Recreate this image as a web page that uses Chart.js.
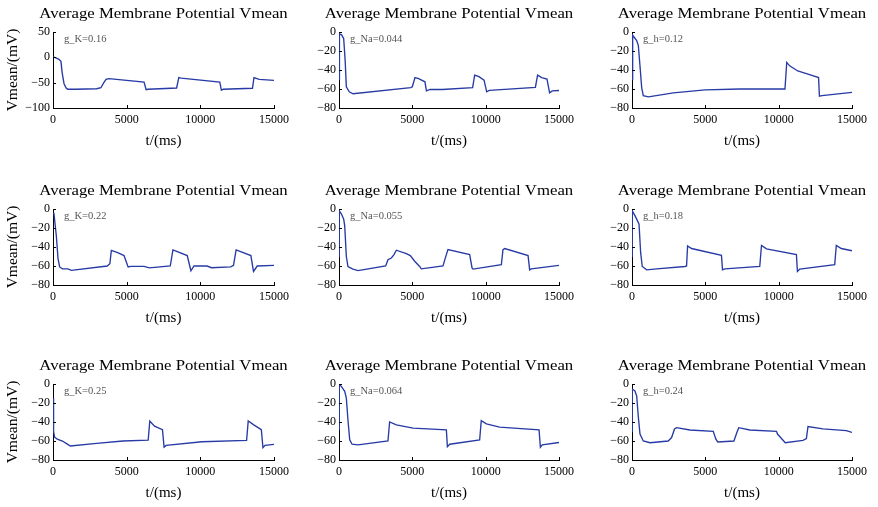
<!DOCTYPE html>
<html>
<head>
<meta charset="utf-8">
<script src="https://cdn.jsdelivr.net/npm/chart.js@4.4.1/dist/chart.umd.min.js"></script>
<style>
  body { margin: 0; background: #fff; }
  #wrap { position: relative; width: 878px; height: 507px; }
  #wrap canvas { position: absolute; }
</style>
</head>
<body>
<div id="wrap"></div>
<script>
// tick values
var xTicks = [0, 5000, 10000, 15000];
var yTicksWide = [50, 0, -50, -100];
var yTicks = [0, -20, -40, -60, -80];

// g_K = 0.16
var tK16 = [0, 200, 400, 540, 620, 750, 880, 1000, 1500, 2960, 3250, 3450, 3600, 3800, 6180, 6320, 6450, 8390, 8540, 8700, 11320, 11430, 11550, 13540, 13640, 14000, 15000];
var vK16 = [1, -1, -4, -8, -30, -52, -60, -63, -63, -62, -60, -50, -43.5, -42, -49, -64, -63, -60.5, -40, -41, -49, -65, -63, -61, -40, -43.5, -45.5];
// g_Na = 0.044
var tNa44 = [0, 30, 180, 320, 420, 500, 700, 960, 4890, 5000, 5180, 5430, 5860, 5960, 6210, 7040, 9110, 9250, 9540, 9890, 10070, 10250, 13390, 13540, 13820, 14180, 14360, 14540, 15000];
var vNa44 = [-50, -2, -3, -7, -30, -57.6, -63, -65, -58.6, -57.6, -48, -49, -52.4, -62, -60.4, -60.5, -58.6, -45.4, -47, -50.7, -63, -61.5, -58.3, -45.4, -48, -49.6, -64, -62, -61.6];
// g_h = 0.12
var tH12 = [0, 45, 320, 430, 545, 660, 770, 1120, 2820, 4980, 7360, 10430, 10550, 10750, 11300, 12000, 12720, 12780, 12950, 15000];
var vH12 = [-50, -3.5, -9, -14, -35.6, -58.7, -67, -68.3, -64, -61, -60, -60, -32, -35.6, -41, -44.4, -48, -67.6, -67, -63.5];

// g_K = 0.22
var tK22 = [0, 60, 230, 340, 450, 640, 1000, 1250, 3680, 3860, 3960, 4390, 4820, 5100, 5290, 6180, 6540, 7960, 8140, 9110, 9360, 9570, 10460, 10750, 12070, 12250, 12430, 13430, 13610, 13860, 15000];
var vK22 = [-5, -4, -29, -52, -61, -63, -63, -64.6, -60, -57.6, -43.6, -46, -49, -61, -60.4, -60.4, -62, -60, -43, -49, -65, -60, -60, -61.8, -61, -59.4, -43, -49, -65.7, -60, -59.4];
// g_Na = 0.055
var tNa55 = [0, 20, 160, 320, 390, 500, 610, 950, 1300, 3180, 3340, 3570, 3750, 3910, 4590, 4860, 5160, 5500, 5610, 7090, 7320, 7430, 8910, 9070, 9140, 11070, 11180, 11300, 12890, 13000, 13110, 15000];
var vNa55 = [-50, -2, -5, -10.7, -17.8, -50, -60.5, -63.3, -64.8, -60, -53.4, -51.6, -48, -43.4, -47, -49, -55, -60.5, -63, -60, -48, -42.7, -48, -62, -63.3, -58.7, -42.7, -41.6, -49, -64, -63, -59.4];
// g_h = 0.18
var tH18 = [0, 20, 200, 320, 480, 590, 700, 1000, 1680, 3610, 3720, 3790, 4060, 6100, 6170, 6330, 8710, 8830, 9170, 11210, 11280, 11440, 13820, 13930, 14270, 15000];
var vH18 = [-50, -2, -7, -10.7, -16, -46, -60.5, -64, -63, -60.5, -60, -39, -41.6, -48.8, -64, -63, -60.5, -38.4, -42, -48, -65.8, -63.3, -58.7, -38.4, -41.6, -44];

// g_K = 0.25
var tK25 = [0, 40, 110, 290, 640, 1000, 1180, 2960, 4750, 6460, 6570, 6890, 7430, 7540, 7680, 10110, 13140, 13250, 13680, 14140, 14250, 14390, 15000];
var vK25 = [-15, -50, -56, -58, -60, -63.6, -65.3, -62.5, -60, -59, -39, -44.4, -48, -66.4, -64.6, -60.8, -59.4, -39, -43.6, -48, -67, -64.6, -63.6];
// g_Na = 0.064
var tNa64 = [0, 20, 160, 390, 500, 610, 730, 890, 1300, 3340, 3450, 3910, 5050, 7320, 7390, 7550, 9590, 9700, 10050, 10950, 13640, 13730, 13860, 15000];
var vNa64 = [-48, -0.7, -2.5, -7.7, -14.8, -37.7, -58.8, -63.4, -64, -60, -40, -43, -46.5, -48.2, -66, -63.4, -58.8, -38.7, -42, -45.4, -48.2, -66.5, -64, -61.6];
// g_h = 0.24
var tH24 = [0, 20, 200, 320, 430, 545, 770, 1230, 2470, 2700, 2900, 3040, 3950, 5540, 5720, 5850, 6950, 7150, 7280, 8030, 9850, 9920, 10450, 11660, 11890, 12000, 13020, 14610, 15000];
var vH24 = [-50, -5.5, -7.3, -12.7, -34.5, -52.7, -60, -61.8, -60, -56.4, -47.3, -46, -48.4, -49.8, -58, -61, -60, -51, -46, -48.4, -49.8, -52.7, -61.8, -59.3, -57.5, -44.7, -47.3, -49, -51];

var colLeft = [53, 339, 632];
var colRight = [274, 559, 852];
var rowTop = [32, 209, 384];
var plotH = 76;

var panels = [
    { r: 0, c: 0, tag: 'g_K=0.16', t: tK16, v: vK16, yt: yTicksWide },
    { r: 0, c: 1, tag: 'g_Na=0.044', t: tNa44, v: vNa44, yt: yTicks },
    { r: 0, c: 2, tag: 'g_h=0.12', t: tH12, v: vH12, yt: yTicks },
    { r: 1, c: 0, tag: 'g_K=0.22', t: tK22, v: vK22, yt: yTicks },
    { r: 1, c: 1, tag: 'g_Na=0.055', t: tNa55, v: vNa55, yt: yTicks },
    { r: 1, c: 2, tag: 'g_h=0.18', t: tH18, v: vH18, yt: yTicks },
    { r: 2, c: 0, tag: 'g_K=0.25', t: tK25, v: vK25, yt: yTicks },
    { r: 2, c: 1, tag: 'g_Na=0.064', t: tNa64, v: vNa64, yt: yTicks },
    { r: 2, c: 2, tag: 'g_h=0.24', t: tH24, v: vH24, yt: yTicks }
];

function fmt(v) {
    return v < 0 ? '\u2212' + Math.abs(v) : String(v);
}

// titles, axis labels, inward ticks, annotation
var decor = {
    id: 'decor',
    afterDraw: function(chart, args, opts) {
        var ctx = chart.ctx, a = chart.chartArea;
        var xs = chart.scales.x, ys = chart.scales.y;
        ctx.save();
        ctx.strokeStyle = '#000';
        ctx.lineWidth = 1;
        ctx.beginPath();
        xs.ticks.forEach(function(t) {
            var px = Math.round(xs.getPixelForValue(t.value)) + 0.5;
            ctx.moveTo(px, a.bottom);
            ctx.lineTo(px, a.bottom - 3);
        });
        ys.ticks.forEach(function(t) {
            var py = Math.round(ys.getPixelForValue(t.value)) + 0.5;
            ctx.moveTo(a.left, py);
            ctx.lineTo(a.left + 3, py);
        });
        ctx.stroke();

        var cx = (a.left + a.right) / 2;
        ctx.fillStyle = '#000';
        ctx.textAlign = 'center';
        ctx.textBaseline = 'alphabetic';
        ctx.font = '15.5px "Liberation Serif"';
        ctx.save();
        ctx.translate(cx, a.top - 14);
        ctx.scale(1.08, 1);
        ctx.fillText('Average Membrane Potential Vmean', 0, 0);
        ctx.restore();

        ctx.font = '15px "Liberation Serif"';
        ctx.fillText('t/(ms)', cx, a.bottom + 37);

        if (opts.ylabel) {
            ctx.save();
            ctx.translate(a.left - 40, (a.top + a.bottom) / 2);
            ctx.rotate(-Math.PI / 2);
            ctx.textBaseline = 'middle';
            ctx.font = '15.5px "Liberation Serif"';
            ctx.fillText('Vmean/(mV)', 0, 0);
            ctx.restore();
        }

        ctx.fillStyle = '#555';
        ctx.textAlign = 'left';
        ctx.textBaseline = 'middle';
        ctx.font = '10.5px "Liberation Serif"';
        ctx.fillText(opts.tag, a.left + 11, a.top + 7);
        ctx.restore();
    }
};

Chart.defaults.font.family = '"Liberation Serif"';
Chart.defaults.color = '#000';

var wrap = document.getElementById('wrap');
panels.forEach(function(p) {
    var L = colLeft[p.c], R = colRight[p.c], T = rowTop[p.r];
    var cv = document.createElement('canvas');
    cv.width = R - L + 53 + 22;
    cv.height = plotH + 32 + 48;
    cv.style.left = (L - 53) + 'px';
    cv.style.top = (T - 32) + 'px';
    wrap.appendChild(cv);

    var pts = p.t.map(function(t, i) { return { x: t, y: p.v[i] }; });
    var yt = p.yt;
    new Chart(cv.getContext('2d'), {
        type: 'line',
        data: {
            datasets: [{
                data: pts,
                borderColor: '#273aa5',
                borderWidth: 1.35,
                pointRadius: 0,
                tension: 0,
                fill: false
            }]
        },
        options: {
            responsive: false,
            animation: false,
            layout: { padding: { left: 23, top: 32, right: 22, bottom: 22 } },
            plugins: {
                legend: { display: false },
                tooltip: { enabled: false },
                decor: { tag: p.tag, ylabel: p.c === 0 }
            },
            scales: {
                x: {
                    type: 'linear',
                    min: xTicks[0],
                    max: xTicks[xTicks.length - 1],
                    afterBuildTicks: function(s) { s.ticks = xTicks.map(function(v) { return { value: v }; }); },
                    afterFit: function(s) { s.height = 26; },
                    grid: { drawOnChartArea: false, drawTicks: false },
                    border: { display: true, color: '#000', width: 1 },
                    ticks: { padding: 5, color: '#000', font: { size: 12 }, maxRotation: 0, callback: fmt }
                },
                y: {
                    type: 'linear',
                    min: yt[yt.length - 1],
                    max: yt[0],
                    afterBuildTicks: function(s) { s.ticks = yt.slice().reverse().map(function(v) { return { value: v }; }); },
                    afterFit: function(s) { s.width = 30; },
                    grid: { drawOnChartArea: false, drawTicks: false },
                    border: { display: true, color: '#000', width: 1 },
                    ticks: { padding: 3, color: '#000', font: { size: 12 }, callback: fmt }
                }
            }
        },
        plugins: [decor]
    });
});
</script>
</body>
</html>
